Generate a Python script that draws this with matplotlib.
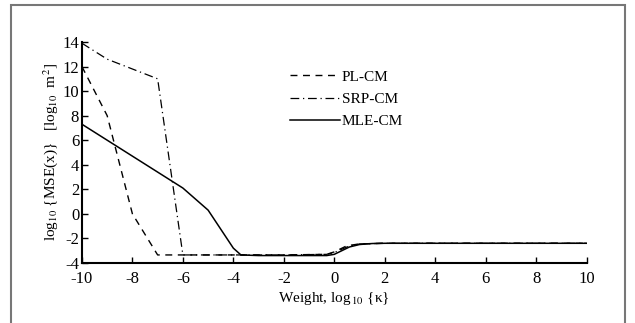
import matplotlib
matplotlib.use("Agg")
import matplotlib.pyplot as plt
from matplotlib.patches import Rectangle

plt.rcParams["font.family"] = ["Liberation Serif", "DejaVu Serif"]
plt.rcParams["mathtext.fontset"] = "stix"
plt.rcParams["axes.unicode_minus"] = False

# PL-CM (dashed)
pl_x = [-10, -9, -8, -7, -6, -4, -2, -0.3, 0, 0.5, 1, 2, 4, 6, 8, 10]
pl_y = [12, 8, 0, -3.35, -3.35, -3.35, -3.35, -3.3, -3.1, -2.6, -2.45, -2.4, -2.4, -2.4, -2.4, -2.4]

# SRP-CM (dash-dot)
srp_x = [-10, -9, -8, -7, -6, -4, -2, -0.3, 0, 0.5, 1, 2, 4, 6, 8, 10]
srp_y = [13.9, 12.6, 11.8, 11.0, -3.35, -3.35, -3.35, -3.3, -3.15, -2.7, -2.45, -2.4, -2.4, -2.4, -2.4, -2.4]

# MLE-CM (solid)
mle_x = [-10, -8, -6, -5, -4, -3.7, -3, -2, -0.3, 0, 0.3, 0.6, 1, 1.5, 2, 4, 6, 8, 10]
mle_y = [7.3, 4.7, 2.1, 0.3, -2.8, -3.35, -3.4, -3.4, -3.4, -3.3, -3.0, -2.7, -2.5, -2.42, -2.4, -2.4, -2.4, -2.4, -2.4]

fig = plt.figure(figsize=(6.35, 3.23), dpi=100)
ax = fig.add_axes([0.129, 0.186, 0.795, 0.684])

ax.plot(pl_x, pl_y, color="black", lw=1.0, ls=(0, (5, 4)), label="PL-CM")
ax.plot(srp_x, srp_y, color="black", lw=0.9, ls=(0, (7, 3, 1, 3)), label="SRP-CM")
ax.plot(mle_x, mle_y, color="black", lw=1.1, ls="-", label="MLE-CM")

ax.set_xlim(-10, 10)
ax.set_ylim(-4, 14)
ax.set_xticks(range(-10, 11, 2))
ax.set_yticks(range(-4, 15, 2))
ax.tick_params(direction="in", length=4, width=1, labelsize=12)
ax.tick_params(axis="x", pad=6)
ax.tick_params(axis="y", pad=2)
for s in ["top", "right"]:
    ax.spines[s].set_visible(False)
for s in ["left", "bottom"]:
    ax.spines[s].set_linewidth(1.5)

ax.set_xlabel("Weight, log$_{\\,10}$ {κ}", fontsize=11, labelpad=2)
ax.set_ylabel(r"log$_{10}$ {MSE(x)}   [log$_{10}$  m$^2$]", fontsize=11, labelpad=2)

leg = ax.legend(loc="upper left", bbox_to_anchor=(0.385, 0.935), frameon=False,
                fontsize=11, handlelength=3.3, handletextpad=0.1, labelspacing=0.55)

fig.patches.append(Rectangle((0.017, -0.02), 0.968, 1.005, transform=fig.transFigure,
                             fill=False, edgecolor="#777777", lw=1.5))

fig.savefig("out.png", dpi=100)
